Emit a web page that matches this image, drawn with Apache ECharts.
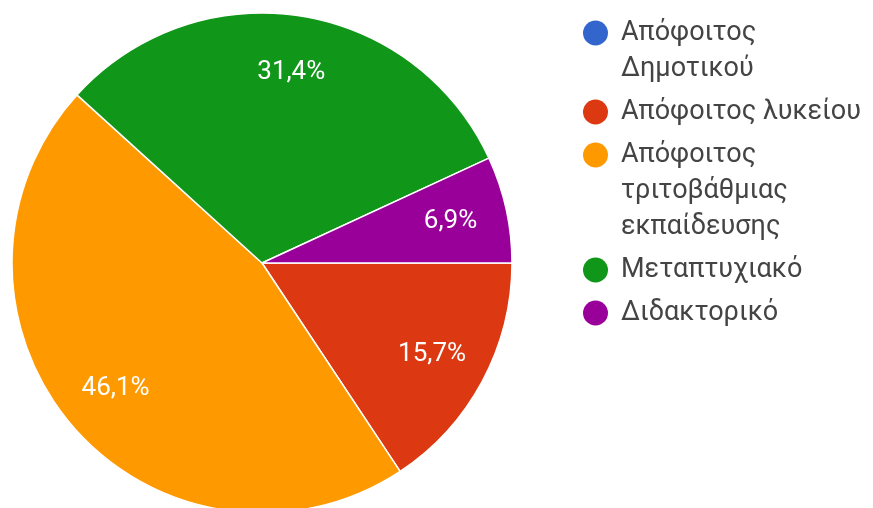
<!DOCTYPE html>
<html>
<head>
<meta charset="utf-8">
<script src="https://cdn.jsdelivr.net/npm/echarts@6/dist/echarts.min.js"></script>
<style>
  html, body { margin: 0; padding: 0; background: #fff; }
  #chart { width: 873px; height: 508px; }
</style>
</head>
<body>
<div id="chart"></div>
<script>
// Education level of respondents (share of answers, %)
const categories = [
  'Απόφοιτος\nΔημοτικού',
  'Απόφοιτος λυκείου',
  'Απόφοιτος\nτριτοβάθμιας\nεκπαίδευσης',
  'Μεταπτυχιακό',
  'Διδακτορικό'
];
const shares = [0, 15.7, 46.1, 31.4, 6.9];
const colors = ['#3366cc', '#dc3912', '#ff9900', '#109618', '#990099'];

const LEGEND_LINE = 36;
const DOT = 25;
const PIE_R = 250;
const CENTER = [262, 263];

const pieData = categories.map((name, i) => ({ name, value: shares[i] }));

// Legend markers are drawn as rich-text dots so they sit beside the first line
const legendRich = {
  t: { fontFamily: 'Roboto', fontSize: 27, lineHeight: LEGEND_LINE, color: '#444' },
  gap: { width: 13, lineHeight: LEGEND_LINE },
  ind: { width: DOT + 13, lineHeight: LEGEND_LINE }
};
colors.forEach((c, i) => {
  legendRich['d' + i] = {
    width: DOT, height: DOT, borderRadius: DOT / 2,
    backgroundColor: c, lineHeight: LEGEND_LINE
  };
});

const legendFormatter = name => {
  const i = categories.indexOf(name);
  return name.split('\n').map((line, k) =>
    (k === 0 ? `{d${i}| }{gap| }` : '{ind| }') + `{t|${line}}`
  ).join('\n');
};

const fmtPct = v => v > 0 ? v.toFixed(1).replace('.', ',') + '%' : '';

const chart = echarts.init(document.getElementById('chart'), null, { renderer: 'canvas' });
chart.setOption({
  animation: false,
  color: colors,
  legend: {
    orient: 'vertical',
    left: 573,
    top: 10,
    icon: 'none',
    itemWidth: 0,
    itemHeight: 10,
    itemGap: 7,
    selectedMode: false,
    data: categories,
    formatter: legendFormatter,
    textStyle: {
      fontFamily: 'Roboto',
      fontSize: 27,
      lineHeight: LEGEND_LINE,
      color: '#444',
      rich: legendRich
    }
  },
  series: [
    {
      type: 'pie',
      center: CENTER,
      radius: [0, PIE_R],
      startAngle: 0,
      clockwise: true,
      silent: true,
      data: pieData,
      itemStyle: { borderColor: '#fff', borderWidth: 1.5 },
      label: { show: false },
      labelLine: { show: false }
    },
    {
      // transparent twin whose slice midpoints place the value labels
      type: 'pie',
      center: CENTER,
      radius: [0, PIE_R * 1.52],
      startAngle: 0,
      clockwise: true,
      silent: true,
      data: pieData,
      itemStyle: { color: 'rgba(0,0,0,0)', borderWidth: 0 },
      label: {
        show: true,
        position: 'inside',
        formatter: p => fmtPct(p.value),
        color: '#fff',
        fontFamily: 'Roboto',
        fontSize: 26
      },
      labelLine: { show: false }
    }
  ]
});
</script>
</body>
</html>
